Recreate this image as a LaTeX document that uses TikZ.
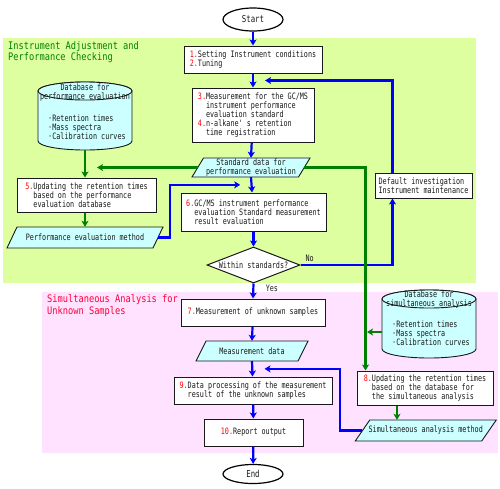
\documentclass[tikz,border=0pt]{standalone}
\usepackage{fontspec}
\newfontfamily\gfont[FakeStretch=0.77]{DejaVu Sans Mono}
\newfontfamily\tfont[FakeStretch=0.835]{DejaVu Sans Mono}
\usetikzlibrary{shapes.geometric,arrows.meta,calc}
\definecolor{bggreen}{RGB}{221,255,160}
\definecolor{bgpink}{RGB}{255,226,255}
\definecolor{shcyan}{RGB}{204,255,255}
\definecolor{lgreen}{RGB}{0,128,0}
\definecolor{lblue}{RGB}{0,0,255}
\definecolor{numred}{RGB}{255,0,0}
\definecolor{ttlred}{RGB}{255,0,51}
\definecolor{ink}{RGB}{25,25,25}
\newcommand\ind{\hphantom{0.}}
\newcommand\nr[1]{\textcolor{numred}{#1}}
\newcommand\paral[7]{% name cx cy w h slant text
  \draw[pshape] ({#2-#4/2-#6/2},{#3+#5/2}) -- ({#2-#4/2+#6/2},{#3-#5/2})
     -- ({#2+#4/2+#6/2},{#3-#5/2}) -- ({#2+#4/2-#6/2},{#3+#5/2}) -- cycle;
  \node[ptext, minimum width=#4pt, minimum height=#5pt] (#1) at (#2,#3) {#7};}
\newcommand\cyl[5]{% cx ytop ybottom rx ry
  \filldraw[pshape] ({#1-#4},#2) -- ({#1-#4},#3)
     arc[start angle=180,end angle=360,x radius=#4pt,y radius=#5pt]
     -- ({#1+#4},#2)
     arc[start angle=0,end angle=180,x radius=#4pt,y radius=#5pt] -- cycle;
  \draw[pshape] (#1,#2) ellipse[x radius=#4pt,y radius=#5pt];}
\begin{document}
\begin{tikzpicture}[x=1pt,y=-1pt,
  font=\gfont\fontsize{8.8}{8.9}\selectfont, text=ink,
  box/.style={draw=ink, line width=1pt, fill=white, align=left, inner sep=0pt},
  ptext/.style={inner sep=0pt, align=center},
  pshape/.style={draw=ink, line width=0.9pt, fill=shcyan},
  term/.style={shape=ellipse, draw=black, line width=1.2pt, fill=white, inner sep=0pt,
     font=\gfont\fontsize{9.6}{10}\selectfont},
  decide/.style={shape=diamond, draw=ink, line width=1pt, fill=white, inner sep=0pt},
  barrow/.style={draw=lblue, line width=2.2pt, -{Stealth[length=6pt,width=7pt,inset=1.5pt]}},
  garrow/.style={draw=lgreen, line width=2.2pt, -{Stealth[length=6pt,width=7pt,inset=1.5pt]}},
  ttl/.style={inner sep=0pt, align=left, anchor=west, font=\tfont\fontsize{10.4}{11.3}\selectfont}
]
\useasboundingbox (0,0) rectangle (500,488);
% regions
\fill[bggreen] (3,38) rectangle (476,283);
\fill[bgpink] (42,292) rectangle (498,453);
\node[ttl, text=lgreen] (ttl1) at (8,52.5) {Instrument Adjustment and\\Performance Checking};
\node[ttl, text=ttlred] (ttl2) at (47,305.5) {Simultaneous Analysis for\\Unknown Samples};

% terminals and boxes
\node[term, minimum width=60pt, minimum height=23pt] (start) at (253,19.5) {Start};
\node[box, minimum width=138pt, minimum height=27pt] (b1) at (253,59.5)
  {\nr{1.}Setting Instrument conditions\\\nr{2.}Tuning};
\node[box, minimum width=122pt, minimum height=54pt] (b3) at (253,115)
  {\nr{3.}Measurement for the GC/MS\\\ind instrument performance\\\ind evaluation standard\\\nr{4.}n-alkane' s retention\\\ind time registration};
\paral{sd}{251}{167.5}{106.5}{19}{11.5}{Standard data for\\performance evaluation}
\node[box, minimum width=145pt, minimum height=38pt] (b6) at (253.5,212)
  {\nr{6.}GC/MS instrument performance\\\ind evaluation Standard measurement\\\ind result evaluation};
\node[decide, minimum width=93pt, minimum height=36pt, aspect=2.58] (dia) at (253.5,265) {Within standards?};
\node[box, minimum width=97pt, minimum height=25pt] (dft) at (423.5,185.5)
  {Default investigation\\Instrument maintenance};

% left database
\cyl{85}{91}{141}{47}{9}
\node[inner sep=0pt, minimum width=94pt, minimum height=68pt] (db1) at (85,116) {};
\node[ptext] (db1t) at (85,92.5) {Database for\\performance evaluation};
\node[ptext, align=left, anchor=west] (db1l) at (48,127) {·Retention times\\·Mass spectra\\·Calibration curves};
\node[box, minimum width=139pt, minimum height=34pt] (b5) at (86.5,195)
  {\nr{5.}Updating the retention times\\\ind based on the performance\\\ind evaluation database};
\paral{pm}{85}{237.5}{146}{21}{10}{Performance evaluation method}

% lower section
\node[box, minimum width=144pt, minimum height=27pt] (b7) at (253,312.5)
  {\nr{7.}Measurement of unknown samples};
\paral{md}{252}{351}{102}{20}{10}{Measurement data}
\node[box, minimum width=158pt, minimum height=27pt] (b9) at (253,390.5)
  {\nr{9.}Data processing of the measurement\\\ind result of the unknown samples};
\node[box, minimum width=99pt, minimum height=27pt] (b10) at (253.5,432.5)
  {\nr{10.}Report output};
\node[term, minimum width=60pt, minimum height=19pt] (end) at (253,474) {End};

% right database
\cyl{429}{299}{349}{47}{9}
\node[inner sep=0pt, minimum width=94pt, minimum height=68pt] (db2) at (429,324) {};
\node[ptext] (db2t) at (429,299.5) {Database for\\simultaneous analysis};
\node[ptext, align=left, anchor=west] (db2l) at (392,333) {·Retention times\\·Mass spectra\\·Calibration curves};
\node[box, minimum width=136pt, minimum height=34pt] (b8) at (425,388)
  {\nr{8.}Updating the retention times\\\ind based on the database for\\\ind the simultaneous analysis};
\paral{sm}{425.75}{430.5}{126.5}{21}{14.5}{Simultaneous analysis method}

% helper coordinates
\coordinate (j1) at ($(b1.south)!0.5!(b3.north)$);
\coordinate (j2) at ($(sd.south)!0.5!(b6.north)$);
\coordinate (j3) at ($(md.south)!0.5!(b9.north)$);
\coordinate (g1) at ($(db1.south)+(12,0)$);
\coordinate (g2) at ($(b8.north west)+(9,0)$);
\coordinate (g3) at ($(g2)+(1.5,0)$);
\coordinate (g4) at ($(b8.south)+(-28,0)$);
\coordinate (g5) at ($(db2.west)+(0,8)$);
\coordinate (lp) at ($(dft.north west)+(18,0)$);
\coordinate (lq) at ($(dft.south west)+(18,0)$);

% main blue flow
\draw[barrow] (start) -- (b1);
\draw[barrow] (b1) -- (b3);
\draw[barrow] (b3) -- (sd.north);
\draw[barrow] (sd.south) -- (b6);
\draw[barrow] (b6) -- (dia);
\draw[barrow] (dia.south) -- (b7.north) node[pos=0.3, anchor=west, xshift=8pt] {Yes};
\draw[barrow] (b7) -- (md.north);
\draw[barrow] (md.south) -- (b9);
\draw[barrow] (b9) -- (b10);
\draw[barrow] (b10) -- (end);
% loops
\draw[barrow] (dia.east) -| (lq) node[pos=0, anchor=south west, inner sep=2pt, xshift=2pt] {No};
\draw[barrow] (lp) |- ($(j1)+(12,0)$);
\draw[barrow] (pm.east) -- ++(12,0) |- ($(j2)+(-12,0)$);
\draw[barrow] (sm.west) -- ++(-22,0) |- ($(j3)+(12,0)$);
% green flow
\draw[garrow] (sd.west) -- (sd.west -| g1);
\draw[garrow] (db1.south) -- (db1.south |- b5.north);
\draw[garrow] (db1.south |- b5.south) -- (db1.south |- pm.north);
\draw[garrow] (sd.east) -| (g2);
\draw[garrow] (g5) -- (g5 -| g3);
\draw[garrow] (g4) -- (g4 |- sm.north);
\end{tikzpicture}
\end{document}
